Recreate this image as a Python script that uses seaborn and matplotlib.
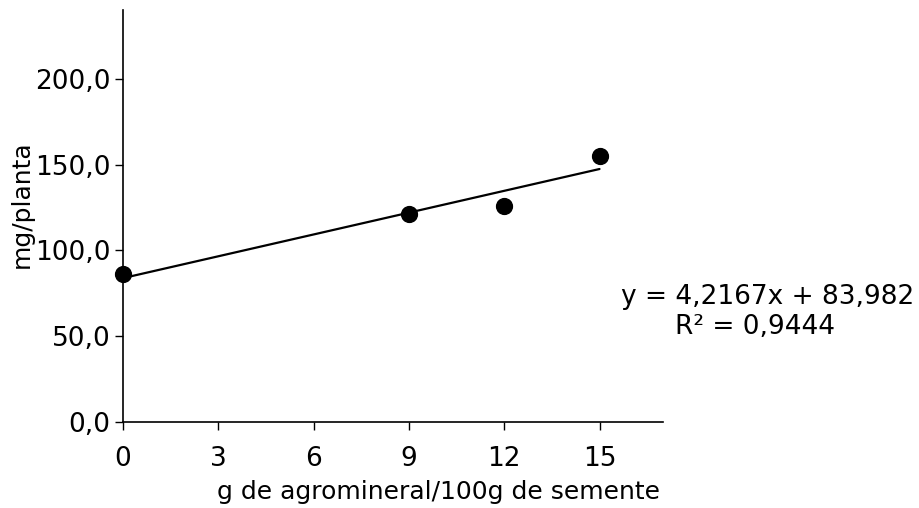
import matplotlib
matplotlib.use("Agg")
import matplotlib.pyplot as plt
import seaborn as sns
import pandas as pd

dose = [0, 9, 12, 15]
mg_planta = [86, 121, 126, 155]
x_ticks = [0, 3, 6, 9, 12, 15]
y_ticks = [0, 50, 100, 150, 200]
y_tick_labels = ["0,0", "50,0", "100,0", "150,0", "200,0"]
equation_line = "y = 4,2167x + 83,982"
r2_line = "R² = 0,9444"

sns.set_theme(style="white")
plt.rcParams['font.family'] = ['DejaVu Sans']

df = pd.DataFrame({"x": dose, "y": mg_planta})

fig = plt.figure(figsize=(9.2, 5.08), dpi=100)
ax = fig.add_axes([0.1337, 0.1693, 0.587, 0.8107])

sns.regplot(data=df, x="x", y="y", ax=ax, ci=None, color="black",
            scatter_kws={"s": 130, "alpha": 1, "zorder": 3},
            line_kws={"linewidth": 1.6})

ax.set_xlim(0, 17)
ax.set_ylim(0, 240)
ax.set_xticks(x_ticks)
ax.set_xticklabels([str(t) for t in x_ticks])
ax.set_yticks(y_ticks)
ax.set_yticklabels(y_tick_labels)
ax.tick_params(axis="both", labelsize=19, length=6, width=1, color="black",
               direction="out", labelcolor="black", bottom=True, left=True)
ax.tick_params(axis="x", pad=11)
ax.tick_params(axis="y", pad=3)
ax.set_xlabel("g de agromineral/100g de semente", fontsize=18, color="black")
ax.set_ylabel("mg/planta", fontsize=18, color="black")
ax.xaxis.set_label_coords((438 - 123) / 540, -(480 - 422) / 412)
ax.yaxis.set_label_coords(-(123 - 34) / 540, (422 - 204) / 412)
for s in ["top", "right"]:
    ax.spines[s].set_visible(False)
for s in ["left", "bottom"]:
    ax.spines[s].set_color("black")
    ax.spines[s].set_linewidth(1.2)
ax.set_facecolor("white")
for c in ax.collections:
    c.set_clip_on(False)

fig.text(768 / 920, 1 - 297 / 508, equation_line, fontsize=19, ha="center",
         va="center", color="black")
fig.text(755 / 920, 1 - 327 / 508, r2_line, fontsize=19, ha="center",
         va="center", color="black")

fig.savefig("out.png", dpi=100, facecolor="white")
